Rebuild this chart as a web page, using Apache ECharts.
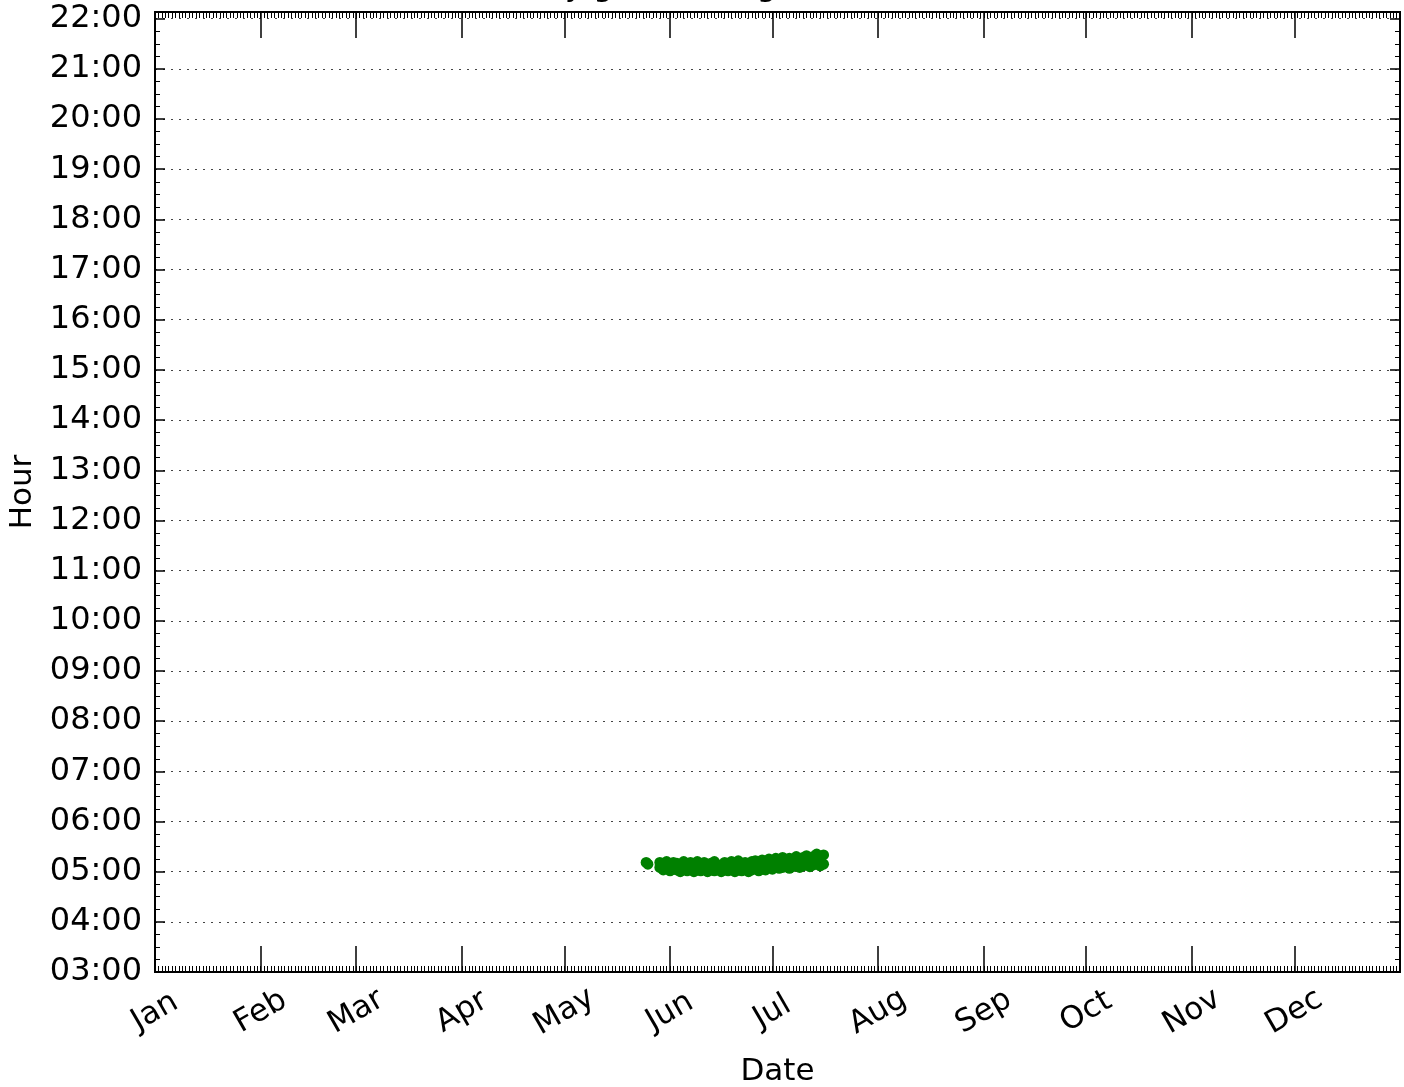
<!DOCTYPE html>
<html>
<head>
<meta charset="utf-8">
<script src="https://cdn.jsdelivr.net/npm/echarts@6/dist/echarts.min.js"></script>
<style>
html,body{margin:0;padding:0;background:#fff;}
#chart{width:1404px;height:1087px;}
</style>
</head>
<body>
<div id="chart"></div>
<script>
// Month start positions (day of year, 0 = Jan 1) and labels
const monthStarts = [0, 31, 59, 90, 120, 151, 181, 212, 243, 273, 304, 334];
const monthLabels = ['Jan', 'Feb', 'Mar', 'Apr', 'May', 'Jun', 'Jul', 'Aug', 'Sep', 'Oct', 'Nov', 'Dec'];
// Observations: day of year
const obsDay = [
  144, 144.5,
  148, 148, 149, 149, 150, 150, 151, 151, 152, 152, 153, 153, 154, 154, 155, 155,
  156, 156, 157, 157, 158, 158, 159, 159, 160, 160, 161, 161, 162, 162, 163, 163,
  164, 164, 165, 165, 166, 166, 167, 167, 168, 168, 169, 169, 170, 170, 171, 171,
  172, 172, 173, 173, 174, 174, 175, 175, 176, 176, 177, 177, 178, 178, 179, 179,
  180, 180, 181, 181, 182, 182, 183, 183, 184, 184, 185, 185, 186, 186, 187, 187,
  188, 188, 189, 189, 190, 190, 191, 191, 192, 192, 193, 193, 194, 194, 195, 195,
  196, 196
];
// Observations: time of day (minutes after midnight)
const obsMinute = [
  311, 309,
  305, 311, 302, 310, 304, 312, 301, 308, 303, 311, 302, 310, 300, 307, 304, 312,
  301, 309, 303, 311, 300, 306, 302, 312, 301, 308, 304, 311, 300, 307, 302, 310,
  301, 312, 303, 308, 300, 306, 302, 311, 301, 310, 303, 312, 300, 307, 302, 313,
  301, 308, 303, 311, 300, 310, 302, 312, 304, 313, 301, 310, 303, 314, 302, 311,
  305, 315, 303, 312, 306, 316, 304, 313, 305, 317, 307, 314, 304, 316, 306, 313,
  308, 318, 305, 315, 307, 317, 309, 319, 306, 314, 308, 318, 310, 321, 307, 316,
  309, 320
];

const points = obsDay.map((d, i) => [d, obsMinute[i]]);
const FONT = 'DejaVu Sans';
const pad = n => (n < 10 ? '0' : '') + n;

const chart = echarts.init(document.getElementById('chart'), null, {renderer: 'canvas'});

function xAxisBase(pos) {
  return {
    type: 'value', position: pos, min: 0, max: 365, gridIndex: 0,
    axisLine: {show: true, onZero: false, lineStyle: {color: '#000', width: 2}},
    splitLine: {show: false},
    axisLabel: {show: false},
    axisPointer: {show: false}
  };
}
const xMinorBottom = Object.assign(xAxisBase('bottom'), {
  interval: 1,
  axisTick: {show: true, inside: true, length: 6, lineStyle: {color: '#000', width: 1}}
});
const xMinorTop = Object.assign(xAxisBase('top'), {
  interval: 1,
  axisTick: {show: true, inside: true, length: 6, lineStyle: {color: '#000', width: 1}}
});
const xMajorBottom = Object.assign(xAxisBase('bottom'), {
  axisTick: {show: true, inside: true, length: 26, customValues: monthStarts, lineStyle: {color: '#000', width: 1.5}},
  axisLabel: {
    show: true, customValues: monthStarts,
    formatter: v => monthLabels[monthStarts.indexOf(Math.round(v))] || '',
    rotate: 30, align: 'center', verticalAlign: 'middle', margin: 40,
    fontFamily: FONT, fontSize: 31, color: '#000'
  },
  name: 'Date', nameLocation: 'middle', nameGap: 84,
  nameTextStyle: {fontFamily: FONT, fontSize: 31, color: '#000'}
});
const xMajorTop = Object.assign(xAxisBase('top'), {
  axisTick: {show: true, inside: true, length: 26, customValues: monthStarts, lineStyle: {color: '#000', width: 1.5}}
});

function yAxisBase(pos) {
  return {
    type: 'value', position: pos, min: 180, max: 1328, interval: 60,
    axisLine: {show: true, onZero: false, lineStyle: {color: '#000', width: 2}},
    axisTick: {show: true, inside: true, length: 10, lineStyle: {color: '#000', width: 1.5}},
    minorTick: {show: true, splitNumber: 4, length: 5, lineStyle: {color: '#000', width: 1}},
    splitLine: {show: false},
    axisLabel: {show: false},
    axisPointer: {show: false}
  };
}
const yLeft = Object.assign(yAxisBase('left'), {
  splitLine: {show: true, lineStyle: {color: '#444', width: 1, type: [2, 6]}},
  axisLabel: {
    show: true, margin: 13, fontFamily: FONT, fontSize: 32, color: '#000',
    formatter: v => pad(Math.round(v / 60)) + ':00'
  },
  name: 'Hour', nameLocation: 'middle', nameGap: 114, nameRotate: 90,
  nameTextStyle: {fontFamily: FONT, fontSize: 31, color: '#000'}
});
const yRight = yAxisBase('right');

chart.setOption({
  backgroundColor: '#fff',
  animation: false,
  title: {
    text: 'Daily gull feeding time',
    left: 500, top: -33,
    textStyle: {fontFamily: FONT, fontSize: 31, fontWeight: 'normal', color: '#000'}
  },
  grid: {left: 155, right: 4, top: 12, bottom: 115, containLabel: false, outerBoundsMode: 'none'},
  xAxis: [xMinorBottom, xMajorBottom, xMinorTop, xMajorTop],
  yAxis: [yLeft, yRight],
  series: [{
    type: 'scatter',
    xAxisIndex: 1, yAxisIndex: 0,
    data: points,
    symbol: 'circle', symbolSize: 11,
    itemStyle: {color: '#008000', opacity: 1},
    silent: true
  }]
});
</script>
</body>
</html>
